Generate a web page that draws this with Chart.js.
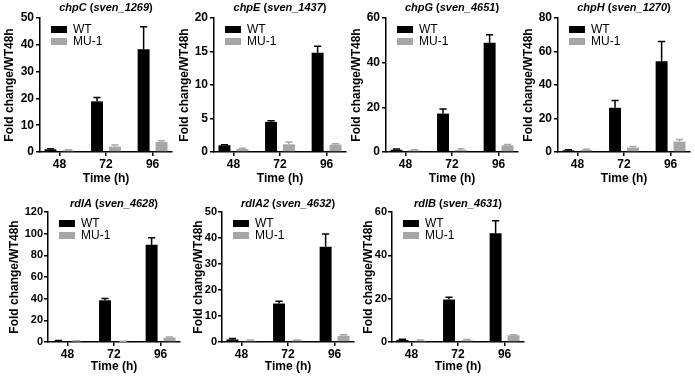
<!DOCTYPE html>
<html>
<head>
<meta charset="utf-8">
<script src="https://cdn.jsdelivr.net/npm/chart.js@4.4.0/dist/chart.umd.min.js"></script>
<style>
  html, body { margin: 0; padding: 0; background: #fff; }
  #wrap { position: relative; width: 695px; height: 377px; overflow: hidden; }
  #wrap canvas { position: absolute; }
</style>
</head>
<body>
<div id="wrap"></div>
<script>
// x categories (hours) and series names
const timePoints = [48, 72, 96];
const seriesNames = ["WT", "MU-1"];

// panel titles: gene name + locus tag
const geneNames = ["chpC", "chpE", "chpG", "chpH", "rdlA", "rdlA2", "rdlB"];
const locusTags = ["sven_1269", "sven_1437", "sven_4651", "sven_1270", "sven_4628", "sven_4632", "sven_4631"];

// y axis tops and steps
const yMaxes = [50, 20, 60, 80, 120, 50, 60];
const ySteps = [10, 5, 20, 20, 20, 10, 20];

// fold change (mean) and SD
const chpCWt = [1.0, 18.9, 38.3];   const chpCWtSd = [0.2, 1.4, 8.4];
const chpCMu = [0.6, 2.0, 3.7];     const chpCMuSd = [0.2, 0.6, 0.5];
const chpEWt = [1.0, 4.5, 14.8];    const chpEWtSd = [0.1, 0.15, 1.0];
const chpEMu = [0.45, 1.15, 1.1];   const chpEMuSd = [0.1, 0.35, 0.15];
const chpGWt = [1.0, 17.2, 48.9];   const chpGWtSd = [0.3, 2.0, 3.6];
const chpGMu = [0.75, 0.9, 3.0];    const chpGMuSd = [0.25, 0.5, 0.4];
const chpHWt = [1.0, 26.4, 54.2];   const chpHWtSd = [0.4, 4.3, 11.8];
const chpHMu = [1.2, 2.6, 6.2];     const chpHMuSd = [0.4, 0.7, 1.3];
const rdlAWt = [1.0, 38.5, 89.8];   const rdlAWtSd = [0.4, 1.6, 6.5];
const rdlAMu = [0.9, 0.6, 4.0];     const rdlAMuSd = [0.2, 0.2, 0.6];
const rdlA2Wt = [1.0, 14.8, 36.6];  const rdlA2WtSd = [0.3, 0.9, 4.9];
const rdlA2Mu = [0.5, 0.6, 2.4];    const rdlA2MuSd = [0.3, 0.2, 0.4];
const rdlBWt = [1.0, 19.6, 50.2];   const rdlBWtSd = [0.3, 1.1, 5.8];
const rdlBMu = [0.6, 0.8, 3.1];     const rdlBMuSd = [0.3, 0.4, 0.3];

const wtValues = [chpCWt, chpEWt, chpGWt, chpHWt, rdlAWt, rdlA2Wt, rdlBWt];
const wtErrors = [chpCWtSd, chpEWtSd, chpGWtSd, chpHWtSd, rdlAWtSd, rdlA2WtSd, rdlBWtSd];
const muValues = [chpCMu, chpEMu, chpGMu, chpHMu, rdlAMu, rdlA2Mu, rdlBMu];
const muErrors = [chpCMuSd, chpEMuSd, chpGMuSd, chpHMuSd, rdlAMuSd, rdlA2MuSd, rdlBMuSd];

const colors = { wt: "#000000", mu: "#a6a6a6", axis: "#000000" };
const fontFamily = "'Liberation Sans', Arial, Helvetica, sans-serif";

// where each plot area sits on the page
const layoutBoxes = [
  { left: 40,  top: 18,  bottom: 152, canvasTop: 0,   canvasH: 186, titleY: 8,     yTitleX: 10,    tickSize: 12 },
  { left: 214, top: 18,  bottom: 152, canvasTop: 0,   canvasH: 186, titleY: 8,     yTitleX: 185,   tickSize: 12 },
  { left: 386, top: 18,  bottom: 152, canvasTop: 0,   canvasH: 186, titleY: 8,     yTitleX: 357,   tickSize: 12 },
  { left: 558, top: 18,  bottom: 152, canvasTop: 0,   canvasH: 186, titleY: 8,     yTitleX: 529,   tickSize: 12 },
  { left: 48,  top: 212, bottom: 342, canvasTop: 186, canvasH: 191, titleY: 203.5, yTitleX: 15,    tickSize: 11 },
  { left: 222, top: 212, bottom: 342, canvasTop: 186, canvasH: 191, titleY: 203.5, yTitleX: 198.5, tickSize: 11 },
  { left: 392, top: 212, bottom: 342, canvasTop: 186, canvasH: 191, titleY: 203.5, yTitleX: 368.5, tickSize: 11 },
];
const plotWidth = 132;
const xRange = { min: 38, max: 106 };

// Error bars (one-sided, upward)
const errorBars = {
  id: "errorBars",
  afterDatasetsDraw(chart) {
    const { ctx } = chart;
    const yScale = chart.scales.y;
    chart.data.datasets.forEach((ds, i) => {
      const meta = chart.getDatasetMeta(i);
      meta.data.forEach((bar, j) => {
        const top = yScale.getPixelForValue(ds.data[j].y + ds.errors[j]);
        const cap = bar.width * 0.3;
        ctx.save();
        ctx.strokeStyle = ds.backgroundColor;
        ctx.lineWidth = 1.5;
        ctx.beginPath();
        ctx.moveTo(bar.x, bar.y);
        ctx.lineTo(bar.x, top);
        ctx.moveTo(bar.x - cap, top);
        ctx.lineTo(bar.x + cap, top);
        ctx.stroke();
        ctx.restore();
      });
    });
  },
};

// Legend drawn inside the plot, top-left
const boxLegend = {
  id: "boxLegend",
  afterDraw(chart) {
    const { ctx, chartArea } = chart;
    ctx.save();
    ctx.font = "12px " + fontFamily;
    ctx.textBaseline = "middle";
    chart.data.datasets.forEach((ds, i) => {
      const x = chartArea.left + 11;
      const y = chartArea.top + 11.5 + i * 12;
      ctx.fillStyle = ds.backgroundColor;
      ctx.fillRect(x, y - 3.5, 16, 7);
      ctx.fillStyle = "#000";
      ctx.fillText(ds.label, x + 22, y + 0.5);
    });
    ctx.restore();
  },
};

// Title with italic gene names
const geneTitle = {
  id: "geneTitle",
  afterDraw(chart, args, opts) {
    const { ctx, chartArea } = chart;
    const parts = [
      { text: opts.gene, italic: true },
      { text: " (", italic: false },
      { text: opts.locus, italic: true },
      { text: ")", italic: false },
    ];
    const fontFor = (p) => (p.italic ? "italic " : "") + "bold 11px " + fontFamily;
    ctx.save();
    let total = 0;
    parts.forEach((p) => {
      ctx.font = fontFor(p);
      total += ctx.measureText(p.text).width;
    });
    let x = (chartArea.left + chartArea.right) / 2 - total / 2;
    ctx.fillStyle = "#000";
    ctx.textBaseline = "middle";
    parts.forEach((p) => {
      ctx.font = fontFor(p);
      ctx.fillText(p.text, x, opts.y);
      x += ctx.measureText(p.text).width;
    });
    ctx.restore();
  },
};

function buildPanel(idx) {
  const box = layoutBoxes[idx];
  const canvasLeft = box.left - 44;
  const canvasW = 44 + plotWidth + 4;
  const canvas = document.createElement("canvas");
  canvas.width = canvasW;
  canvas.height = box.canvasH;
  canvas.style.left = canvasLeft + "px";
  canvas.style.top = box.canvasTop + "px";
  document.getElementById("wrap").appendChild(canvas);

  const padLeft = box.yTitleX - 7.2 - canvasLeft;
  const yWidth = box.left - canvasLeft - padLeft;
  const xHeight = box.canvasTop + box.canvasH - box.bottom;
  const toPoints = (arr) => arr.map((v, i) => ({ x: timePoints[i], y: v }));

  new Chart(canvas, {
    type: "bar",
    data: {
      datasets: [
        {
          label: seriesNames[0],
          data: toPoints(wtValues[idx]),
          errors: wtErrors[idx],
          backgroundColor: colors.wt,
        },
        {
          label: seriesNames[1],
          data: toPoints(muValues[idx]),
          errors: muErrors[idx],
          backgroundColor: colors.mu,
        },
      ],
    },
    options: {
      responsive: false,
      animation: false,
      categoryPercentage: 0.77,
      barPercentage: 0.667,
      layout: {
        padding: { left: padLeft, top: box.top - box.canvasTop, right: 4, bottom: 0 },
      },
      plugins: {
        legend: { display: false },
        tooltip: { enabled: false },
        geneTitle: { gene: geneNames[idx], locus: locusTags[idx], y: box.titleY - box.canvasTop },
      },
      scales: {
        x: {
          type: "linear",
          min: xRange.min,
          max: xRange.max,
          offset: false,
          afterBuildTicks: (scale) => {
            scale.ticks = timePoints.map((v) => ({ value: v }));
          },
          afterFit: (scale) => {
            scale.height = xHeight;
          },
          border: { display: true, color: colors.axis, width: 1.5 },
          grid: { offset: false, drawOnChartArea: false, drawTicks: true, tickLength: 4, color: colors.axis, lineWidth: 1.5 },
          ticks: {
            padding: 1,
            color: "#000",
            font: { family: fontFamily, size: 12, weight: "bold" },
            callback: (v) => String(v),
          },
          title: {
            display: true,
            text: "Time (h)",
            color: "#000",
            font: { family: fontFamily, size: 12, weight: "bold" },
            padding: { top: 0, bottom: idx < 4 ? 0 : 3 },
          },
        },
        y: {
          min: 0,
          max: yMaxes[idx],
          afterFit: (scale) => {
            scale.width = yWidth;
          },
          border: { display: true, color: colors.axis, width: 1.5 },
          grid: { drawOnChartArea: false, drawTicks: true, tickLength: 4, color: colors.axis, lineWidth: 1.5 },
          ticks: {
            stepSize: ySteps[idx],
            padding: idx < 4 ? 2 : 1,
            color: "#000",
            font: { family: fontFamily, size: box.tickSize, weight: "bold" },
          },
          title: {
            display: true,
            text: "Fold change/WT48h",
            color: "#000",
            font: { family: fontFamily, size: 12, weight: "bold" },
            padding: { top: 0, bottom: 0 },
          },
        },
      },
    },
    plugins: [errorBars, boxLegend, geneTitle],
  });
}

geneNames.forEach((g, i) => buildPanel(i));
</script>
</body>
</html>
